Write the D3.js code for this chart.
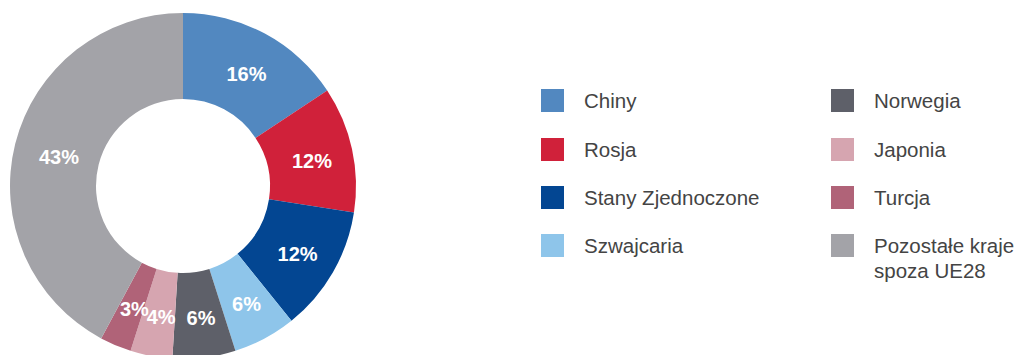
<!DOCTYPE html>
<html>
<head>
<meta charset="utf-8">
<script src="https://cdn.jsdelivr.net/npm/d3@7/dist/d3.min.js"></script>
<style>
  html, body { margin: 0; padding: 0; background: #ffffff; }
  svg { display: block; }
  text { font-family: "Liberation Sans", Arial, sans-serif; }
</style>
</head>
<body>
<svg id="chart" width="1017" height="355"></svg>
<script>
// Import share by partner country (%)
const countries = ["Chiny", "Rosja", "Stany Zjednoczone", "Szwajcaria", "Norwegia", "Japonia", "Turcja", "Pozostałe kraje spoza UE28"];
const shares = [16, 12, 12, 6, 6, 4, 3, 43];
const colors = ["#5288c0", "#d0213a", "#034692", "#8ec5ea", "#5e6069", "#d6a5b0", "#b06378", "#a3a3a8"];
// legend text broken into lines
const legendLines = [["Chiny"], ["Rosja"], ["Stany Zjednoczone"], ["Szwajcaria"], ["Norwegia"], ["Japonia"], ["Turcja"], ["Pozostałe kraje", "spoza UE28"]];

const svg = d3.select("#chart");

const cx = 183, cy = 186, outerR = 173, innerR = 87;

const data = countries.map((c, i) => ({ name: c, value: shares[i], color: colors[i], lines: legendLines[i] }));

const pie = d3.pie().value(d => d.value).sort(null);
const arc = d3.arc().innerRadius(innerR).outerRadius(outerR);

const g = svg.append("g").attr("transform", `translate(${cx},${cy})`);
const arcs = pie(data);

g.selectAll("path.slice")
  .data(arcs)
  .join("path")
  .attr("class", "slice")
  .attr("d", arc)
  .attr("fill", d => d.data.color);

g.selectAll("text.pct")
  .data(arcs)
  .join("text")
  .attr("class", "pct")
  .attr("x", d => arc.centroid(d)[0] + 2)
  .attr("y", d => arc.centroid(d)[1] + 10)
  .attr("text-anchor", "middle")
  .attr("fill", "#ffffff")
  .attr("font-weight", "bold")
  .attr("font-size", 20)
  .text(d => d.data.value + "%");

// Legend: two columns of four
const colX = [541, 831];
const rowY = [89, 138, 186, 234];
const legend = svg.append("g");
const items = legend.selectAll("g.item")
  .data(data)
  .join("g")
  .attr("class", "item")
  .attr("transform", (d, i) => `translate(${colX[Math.floor(i / 4)]},${rowY[i % 4]})`);

items.append("rect")
  .attr("width", 23)
  .attr("height", 23)
  .attr("fill", d => d.color);

items.append("text")
  .attr("x", 43)
  .attr("y", 19)
  .attr("fill", "#444444")
  .attr("font-size", 20.5)
  .selectAll("tspan")
  .data(d => d.lines)
  .join("tspan")
  .attr("x", 43)
  .attr("dy", (d, i) => i === 0 ? 0 : 25)
  .text(d => d);
</script>
</body>
</html>
